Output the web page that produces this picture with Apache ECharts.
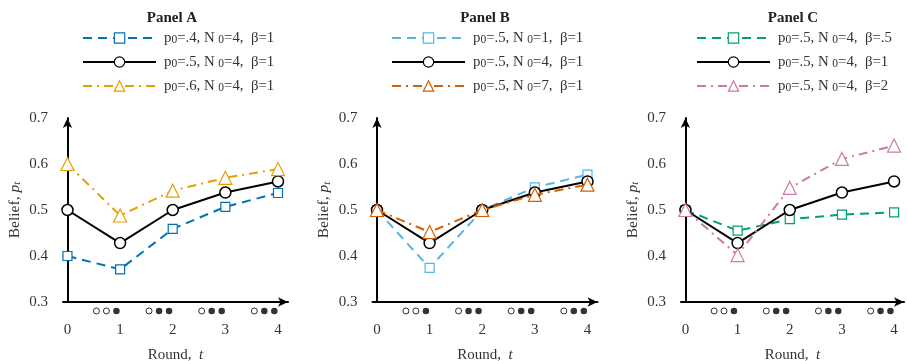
<!DOCTYPE html>
<html><head><meta charset="utf-8">
<script src="https://cdn.jsdelivr.net/npm/echarts@6/dist/echarts.min.js"></script>
<style>html,body{margin:0;padding:0;background:#fff}#c{width:907px;height:361px}</style>
</head><body><div id="c"></div>
<script>
// ---- data ----
const rounds = [0, 1, 2, 3, 4];
const xTickLabels = [0, 1, 2, 3, 4];
const yTicks = [0.3, 0.4, 0.5, 0.6, 0.7];
const panelTitles = ['Panel A', 'Panel B', 'Panel C'];

const baseName = 'p0=.5, N0=4, β=1';
const baseline = [0.500, 0.428, 0.500, 0.538, 0.562];

const aLowName = 'p0=.4, N0=4, β=1';
const aLow = [0.400, 0.371, 0.459, 0.507, 0.537];
const aHighName = 'p0=.6, N0=4, β=1';
const aHigh = [0.600, 0.488, 0.542, 0.570, 0.589];

const bN1Name = 'p0=.5, N0=1, β=1';
const bN1 = [0.500, 0.374, 0.500, 0.549, 0.577];
const bN7Name = 'p0=.5, N0=7, β=1';
const bN7 = [0.500, 0.452, 0.500, 0.533, 0.555];

const cB05Name = 'p0=.5, N0=4, β=.5';
const cB05 = [0.500, 0.455, 0.480, 0.490, 0.495];
const cB2Name = 'p0=.5, N0=4, β=2';
const cB2 = [0.500, 0.402, 0.548, 0.611, 0.640];

// observed signals per round 1..4 (0 = open circle, 1 = filled)
const signalRounds = [1, 2, 3, 4];
const signals = [[0, 0, 1], [0, 1, 1], [0, 1, 1], [0, 1, 1]];

// ---- styling ----
const FONT = '"Liberation Serif", "DejaVu Serif", serif';
const grids = [
  { left: 63, width: 225 },
  { left: 372.5, width: 225 },
  { left: 681, width: 223 }
];
const titleX = [167, 480, 788];
const legendX = [77, 386, 691];
const DASH = [9, 6];
const DASHDOT = [9, 5, 2, 5];

function mkSeries(name, vals, idx, color, kind) {
  const sym = kind === 'sq' ? 'rect' : kind === 'tri' ? 'triangle' : 'circle';
  const size = kind === 'sq' ? 9 : kind === 'tri' ? 13 : 11;
  const type = kind === 'sq' ? DASH : kind === 'tri' ? DASHDOT : 'solid';
  return {
    type: 'line', name, xAxisIndex: idx, yAxisIndex: idx,
    data: rounds.map((r, i) => [r, vals[i]]),
    symbol: sym, symbolSize: size, showAllSymbol: true,
    lineStyle: { color, width: 2, type },
    itemStyle: { color: '#fff', borderColor: color, borderWidth: kind === 'circ' ? 1.5 : 1.2 },
    emphasis: { disabled: true }, z: kind === 'tri' ? 4 : kind === 'circ' ? 3 : 2
  };
}

const panels = [
  [[aLowName, aLow, '#0072B2', 'sq'], [baseName, baseline, '#000', 'circ'], [aHighName, aHigh, '#E69F00', 'tri']],
  [[bN1Name, bN1, '#56B4E9', 'sq'], [baseName, baseline, '#000', 'circ'], [bN7Name, bN7, '#D55E00', 'tri']],
  [[cB05Name, cB05, '#009E73', 'sq'], [baseName, baseline, '#000', 'circ'], [cB2Name, cB2, '#CC79A7', 'tri']]
];

function legendFmt(name) {
  const m = name.match(/p0=([^,]+), N0=([^,]+), β=(.+)/);
  return '{n|p}{s|0}{n|=' + m[1] + ', N }{s|0}{n|=' + m[2] + ',  β=' + m[3] + '}';
}

const series = [];
const xAxis = [], yAxis = [], grid = [], legend = [], title = [];
panels.forEach((p, i) => {
  grid.push({ left: grids[i].left, width: grids[i].width, top: 118, height: 184, containLabel: false, outerBoundsMode: 'none' });
  xAxis.push({
    type: 'value', gridIndex: i, min: -0.085, max: 4.19,
    axisLine: { onZero: false, lineStyle: { color: '#000', width: 2 }, symbol: ['none', 'arrow'], symbolSize: [7, 10] },
    axisTick: { show: false }, splitLine: { show: false },
    axisLabel: { customValues: xTickLabels, margin: 21, color: '#333', fontFamily: FONT, fontSize: 15 },
    name: '{n|Round,  }{i|t}', nameLocation: 'middle', nameGap: 46,
    nameTextStyle: { rich: { n: { fontFamily: FONT, fontSize: 15, color: '#333' }, i: { fontFamily: FONT, fontSize: 15, fontStyle: 'italic', color: '#333' } } }
  });
  yAxis.push({
    type: 'value', gridIndex: i, min: 0.3, max: 0.7, interval: 0.1,
    axisLine: { onZero: true, lineStyle: { color: '#000', width: 2 }, symbol: ['none', 'arrow'], symbolSize: [7, 10] },
    axisTick: { show: false }, splitLine: { show: false },
    axisLabel: { margin: 15, color: '#333', fontFamily: FONT, fontSize: 15, formatter: v => v.toFixed(1) },
    name: '{n|Belief, }{i|p}{s|t}', nameLocation: 'middle', nameRotate: 90, nameGap: 40,
    nameTextStyle: { rich: {
      n: { fontFamily: FONT, fontSize: 15.5, color: '#333' },
      i: { fontFamily: FONT, fontSize: 15.5, fontStyle: 'italic', color: '#333' },
      s: { fontFamily: FONT, fontSize: 11, fontStyle: 'italic', color: '#333', padding: [6, 0, 0, 0] } } }
  });
  title.push({ text: panelTitles[i], left: titleX[i], top: 6, textAlign: 'center',
    textStyle: { fontFamily: FONT, fontSize: 15, fontWeight: 'bold', color: '#222' } });
  legend.push({
    left: legendX[i], top: 25, orient: 'vertical', selectedMode: false,
    data: p.map(s => s[0]), itemWidth: 73, itemHeight: 13, itemGap: 8,
    itemStyle: { borderWidth: 1.2 },
    formatter: legendFmt,
    textStyle: { padding: [0, 0, 0, 3], rich: {
      n: { fontFamily: FONT, fontSize: 14.8, color: '#333', lineHeight: 16 },
      s: { fontFamily: FONT, fontSize: 11.5, color: '#333', lineHeight: 16, padding: [4, 0, 0, 0] } } }
  });
  p.forEach(s => series.push(mkSeries(s[0], s[1], i, s[2], s[3])));
  const open = [], filled = [];
  signalRounds.forEach((t, r) => {
    signals[r].forEach((v, k) => {
      const pt = [t - 0.45 + 0.19 * k, 0.2805];
      (v ? filled : open).push(pt);
    });
  });
  series.push({ type: 'scatter', xAxisIndex: i, yAxisIndex: i, data: open, clip: false, silent: true,
    symbol: 'circle', symbolSize: 6, itemStyle: { color: '#fff', borderColor: '#000', borderWidth: 1 } });
  series.push({ type: 'scatter', xAxisIndex: i, yAxisIndex: i, data: filled, clip: false, silent: true,
    symbol: 'circle', symbolSize: 6.5, itemStyle: { color: '#000' } });
});

const chart = echarts.init(document.getElementById('c'), null, { renderer: 'canvas' });
chart.setOption({ animation: false, backgroundColor: '#fff', title, legend, grid, xAxis, yAxis, series });
</script>
</body></html>
